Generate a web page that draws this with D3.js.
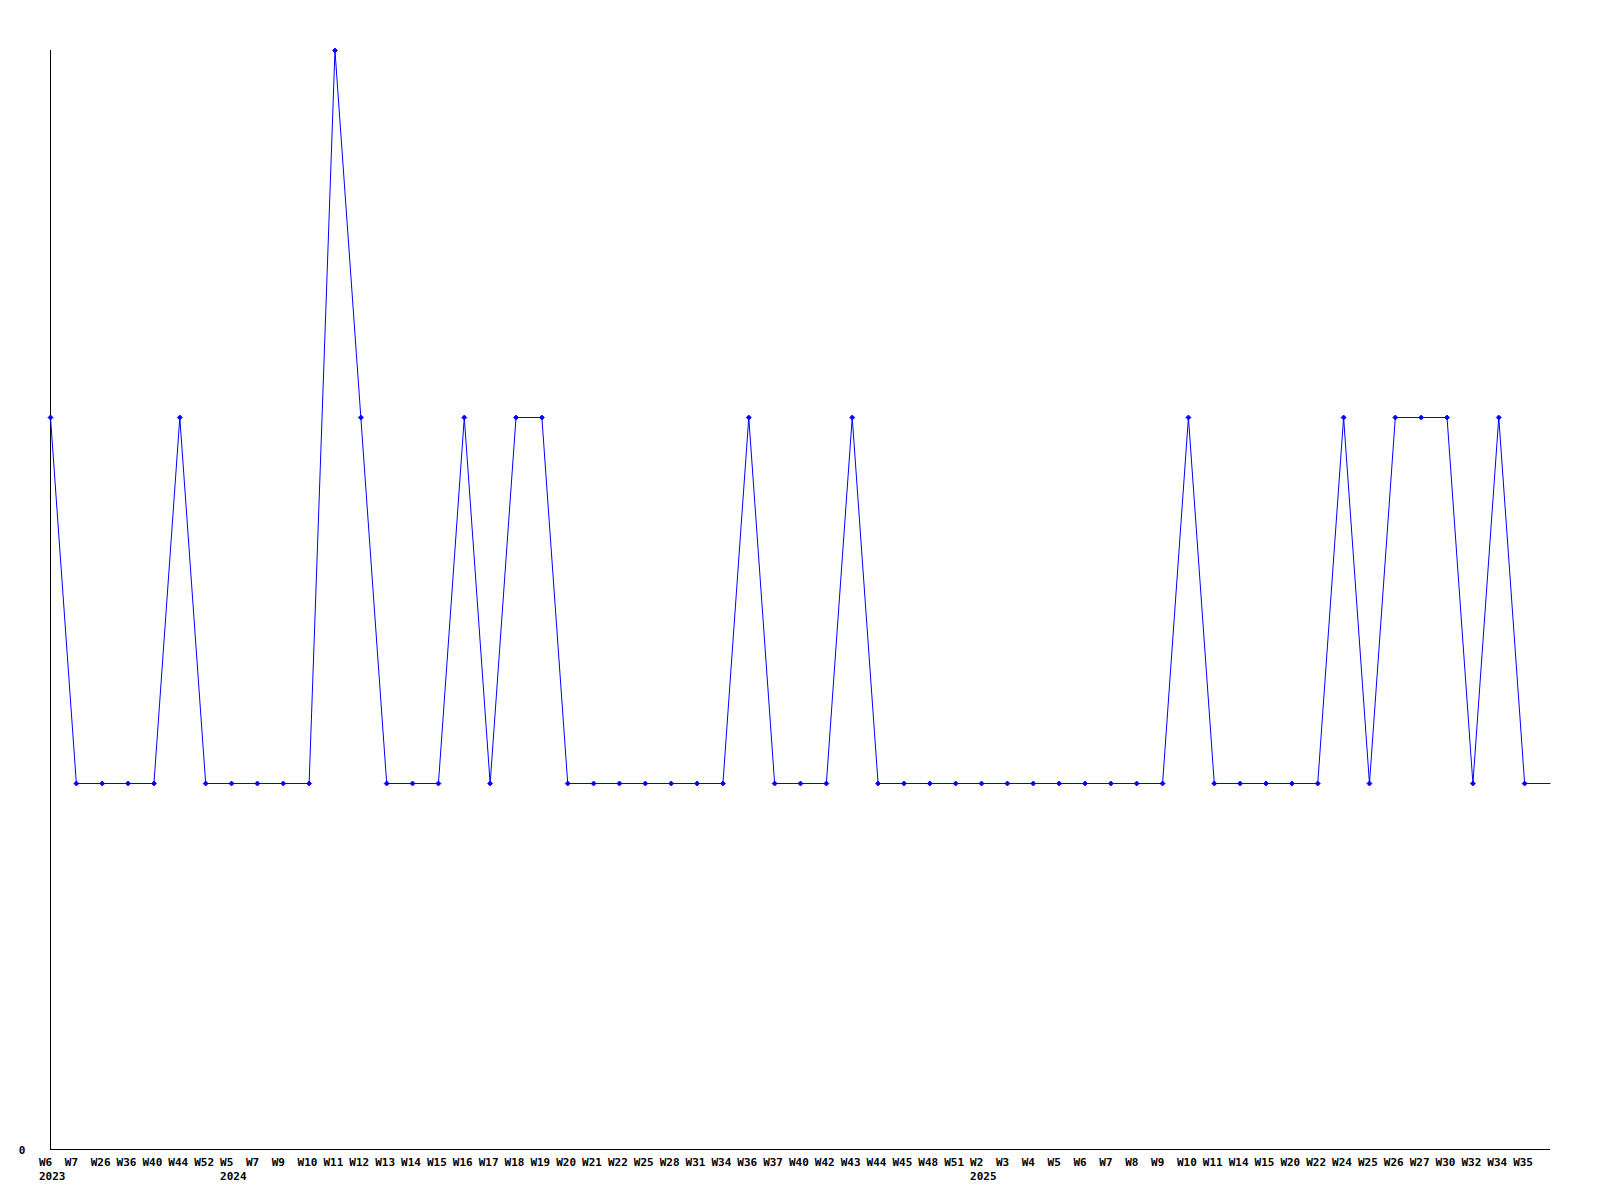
<!DOCTYPE html>
<html>
<head>
<meta charset="utf-8">
<script src="https://cdn.jsdelivr.net/npm/d3@7"></script>
<style>
  html, body { margin: 0; padding: 0; background: #fff; }
  svg { display: block; }
  text { font-family: "DejaVu Sans Mono", "Liberation Mono", monospace; font-weight: bold; font-size: 11px; fill: #000; }
</style>
</head>
<body>
<script>
const weeks = ["W6","W7","W26","W36","W40","W44","W52",
  "W5","W7","W9","W10","W11","W12","W13","W14","W15","W16","W17","W18","W19","W20","W21","W22","W25","W28","W31","W34","W36","W37","W40","W42","W43","W44","W45","W48","W51",
  "W2","W3","W4","W5","W6","W7","W8","W9","W10","W11","W14","W15","W20","W22","W24","W25","W26","W27","W30","W32","W34","W35"];
const years = ["2023","2023","2023","2023","2023","2023","2023",
  "2024","2024","2024","2024","2024","2024","2024","2024","2024","2024","2024","2024","2024","2024","2024","2024","2024","2024","2024","2024","2024","2024","2024","2024","2024","2024","2024","2024","2024",
  "2025","2025","2025","2025","2025","2025","2025","2025","2025","2025","2025","2025","2025","2025","2025","2025","2025","2025","2025","2025","2025","2025"];
const values = [2,1,1,1,1,2,1,
  1,1,1,1,3,2,1,1,1,2,1,2,2,1,1,1,1,1,1,1,2,1,1,1,2,1,1,1,1,
  1,1,1,1,1,1,1,1,2,1,1,1,1,1,2,1,2,2,2,1,2,1];
const yTicks = [0];

const W = 1600, H = 1200;
const svg = d3.select("body").append("svg").attr("width", W).attr("height", H);

const x = d3.scaleLinear().domain([0, weeks.length]).range([50, 1550]);
const y = d3.scaleLinear().domain([0, 3]).range([1150, 50]);

// axes
svg.append("line").attr("x1", 50.5).attr("x2", 50.5).attr("y1", y(3)).attr("y2", 1149.5)
  .attr("stroke", "#000").attr("stroke-width", 1);
svg.append("line").attr("x1", 50).attr("x2", 1550).attr("y1", 1149.5).attr("y2", 1149.5)
  .attr("stroke", "#000").attr("stroke-width", 1);

// y tick labels
svg.selectAll("text.ytick").data(yTicks).enter().append("text")
  .attr("class", "ytick")
  .attr("x", 22).attr("y", d => y(d) + 4)
  .attr("text-anchor", "middle")
  .text(d => d);

// x labels
svg.selectAll("text.xlab").data(weeks).enter().append("text")
  .attr("class", "xlab")
  .attr("x", (d, i) => x(i) - 11)
  .attr("y", 1166)
  .attr("text-anchor", "start")
  .text(d => d);

// year labels under first week of each year
const yearStarts = years.map((yr, i) => ({yr, i})).filter((d, k) => k === 0 || years[k - 1] !== d.yr);
svg.selectAll("text.year").data(yearStarts).enter().append("text")
  .attr("class", "year")
  .attr("x", d => x(d.i) - 11)
  .attr("y", 1180)
  .attr("text-anchor", "start")
  .text(d => d.yr);

// line (extended to right edge at last value)
const linePts = values.map((v, i) => [i, v]).concat([[weeks.length, values[values.length - 1]]]);
const line = d3.line().x(d => x(d[0]) + 0.5).y(d => Math.round(y(d[1])) + 0.5);
svg.append("path").datum(linePts).attr("d", line)
  .attr("fill", "none").attr("stroke", "#0000ff").attr("stroke-width", 1);

// markers
const diamond = "M0,-2.5L2.5,0L0,2.5L-2.5,0Z";
svg.selectAll("path.pt").data(values).enter().append("path")
  .attr("class", "pt")
  .attr("transform", (d, i) => `translate(${x(i) + 0.5},${Math.round(y(d)) + 0.5})`)
  .attr("d", diamond)
  .attr("fill", "#0000ff").attr("stroke", "#0000ff").attr("stroke-width", 0.8);
</script>
</body>
</html>
